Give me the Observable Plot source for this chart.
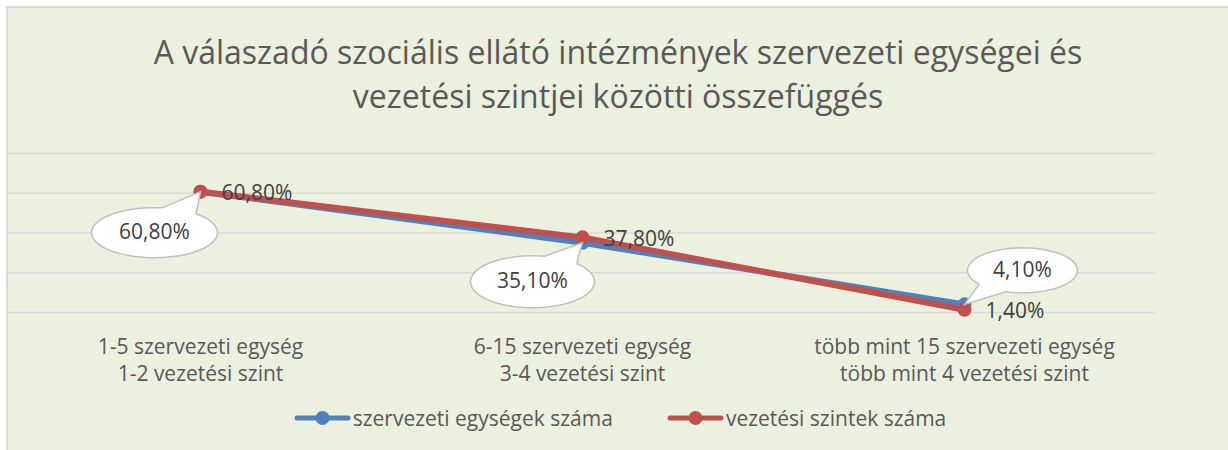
<!DOCTYPE html>
<html>
<head>
<meta charset="utf-8">
<script src="https://cdn.jsdelivr.net/npm/d3@7"></script>
<script src="https://cdn.jsdelivr.net/npm/@observablehq/plot@0.6"></script>
<style>
  html, body { margin: 0; padding: 0; background: #ffffff; }
  body { width: 1228px; height: 450px; overflow: hidden; position: relative; font-family: "Open Sans", sans-serif; }
  #frame {
    position: absolute; left: 6px; top: 6px; width: 1220px; height: 442px;
    border-top: 2px solid #D9D9D9; border-left: 2px solid #D9D9D9;
    background: #EBF1DE;
  }
  #title {
    margin-top: 22px; text-align: center; font-size: 32px; line-height: 44px;
    color: #595959; height: 88px;
  }
  #chart svg { display: block; }
  #legend {
    margin-top: 11px; height: 40px; display: flex; justify-content: center; align-items: center;
    gap: 54px; font-size: 21px; color: #595959; padding-left: 4px;
  }
  .item { display: flex; align-items: center; gap: 2px; }
</style>
</head>
<body>
<div id="frame">
  <div id="title">A válaszadó szociális ellátó intézmények szervezeti egységei és<br>vezetési szintjei közötti összefüggés</div>
  <div id="chart"></div>
  <div id="legend"></div>
</div>
<script>
// ---- data ----
const unitLabels = ["1-5 szervezeti egység", "6-15 szervezeti egység", "több mint 15 szervezeti egység"];
const levelLabels = ["1-2 vezetési szint", "3-4 vezetési szint", "több mint 4 vezetési szint"];
const seriesNames = ["szervezeti egységek száma", "vezetési szintek száma"];
const unitCounts = [60.8, 35.1, 4.1];
const levelCounts = [60.8, 37.8, 1.4];
const yTicks = [0, 20, 40, 60, 80];

const categories = unitLabels.map((u, i) => u + "\n" + levelLabels[i]);
const unitRows = categories.map((c, i) => ({category: c, value: unitCounts[i]}));
const levelRows = categories.map((c, i) => ({category: c, value: levelCounts[i]}));

const colors = ["#4F81BD", "#C0504D"];
const fmt = v => v.toFixed(2).replace(".", ",") + "%";
const FONT = "'Open Sans', sans-serif";

// callout geometry (pixel offsets of the bubble centre from its point)
const calloutStyle = [
  {ox: -46, oy: 41, rx: 63, ry: 25},
  {ox: -50, oy: 39, rx: 62, ry: 26},
  {ox: 58, oy: -34, rx: 55, ry: 22.5}
];
function calloutSymbol({ox, oy, rx, ry}) {
  return {
    draw(ctx) {
      const t = Math.atan2(-oy / ry, -ox / rx);
      const spread = 0.3;
      const a0 = t + spread, a1 = t + 2 * Math.PI - spread;
      const N = 72;
      ctx.moveTo(0, 0);
      for (let k = 0; k <= N; k++) {
        const a = a0 + (a1 - a0) * k / N;
        ctx.lineTo(ox + rx * Math.cos(a), oy + ry * Math.sin(a));
      }
      ctx.closePath();
    }
  };
}

const W = 1220, H = 269;
const calloutMarks = [];
unitRows.forEach((row, i) => {
  const s = calloutStyle[i];
  calloutMarks.push(Plot.dot([row], {
    x: "category", y: "value", r: 10, symbol: calloutSymbol(s),
    fill: "#ffffff", stroke: "#BFBFBF", strokeWidth: 1.5
  }));
  calloutMarks.push(Plot.text([row], {
    x: "category", y: "value", text: d => fmt(d.value), dx: s.ox, dy: s.oy,
    textAnchor: "middle", fill: "#404040", fontSize: 21, fontFamily: FONT
  }));
});

const chart = Plot.plot({
  width: W, height: H,
  marginLeft: 0, marginRight: 73, marginTop: 35, marginBottom: 75,
  x: {type: "point", domain: categories, padding: 0.5},
  y: {domain: [0, 80], axis: null},
  style: {background: "transparent", color: "#595959", fontFamily: FONT, overflow: "visible"},
  marks: [
    Plot.ruleY(yTicks, {stroke: "#D9D9D9", strokeWidth: 1.6}),
    Plot.axisX({tickSize: 0, tickPadding: 22, fontSize: 21, lineHeight: 1.29, label: null, fontFamily: FONT}),
    Plot.line(unitRows, {x: "category", y: "value", stroke: colors[0], strokeWidth: 6, strokeLinejoin: "round"}),
    Plot.dot(unitRows, {x: "category", y: "value", r: 7, fill: colors[0]}),
    Plot.line(levelRows, {x: "category", y: "value", stroke: colors[1], strokeWidth: 6, strokeLinejoin: "round"}),
    Plot.dot(levelRows, {x: "category", y: "value", r: 7, fill: colors[1]}),
    ...calloutMarks,
    Plot.text(levelRows, {x: "category", y: "value", text: d => fmt(d.value), dx: 21, dy: 2,
      textAnchor: "start", fill: "#404040", fontSize: 21, fontFamily: FONT})
  ]
});
document.getElementById("chart").appendChild(chart);

// legend
const legend = document.getElementById("legend");
seriesNames.forEach((name, i) => {
  const item = document.createElement("div");
  item.className = "item";
  item.innerHTML = `<svg width="57" height="18"><line x1="3" y1="9" x2="54" y2="9" stroke="${colors[i]}" stroke-width="5" stroke-linecap="round"/><circle cx="28.5" cy="9" r="7" fill="${colors[i]}"/></svg><span>${name}</span>`;
  legend.appendChild(item);
});
</script>
</body>
</html>
